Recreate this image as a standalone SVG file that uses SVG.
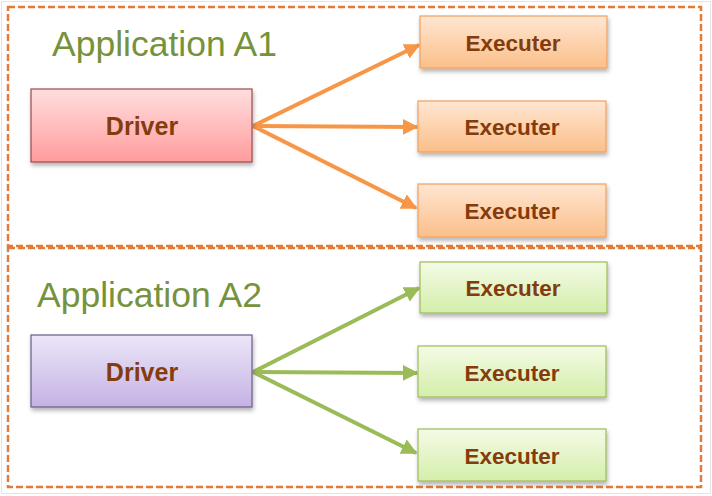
<svg xmlns="http://www.w3.org/2000/svg" width="712" height="496" viewBox="0 0 712 496">
<style>
.frame{fill:none;stroke:#e07b39;stroke-width:2.5;stroke-dasharray:7 3}
.title{font-family:"Liberation Sans",Arial,sans-serif;font-size:35.5px;fill:#76923c}
.lbl{font-family:"Liberation Sans",Arial,sans-serif;font-weight:bold;fill:#843c0c;text-anchor:middle}
.drv{font-size:25px}
.exe{font-size:22.5px}
.ca{stroke:#f79646;stroke-width:4;fill:none}
.cg{stroke:#9bbb59;stroke-width:4;fill:none}
</style>
<defs>
<linearGradient id="gRed" x1="0" y1="0" x2="0" y2="1"><stop offset="0" stop-color="#ffdede"/><stop offset="1" stop-color="#ff9c9c"/></linearGradient>
<linearGradient id="gPur" x1="0" y1="0" x2="0" y2="1"><stop offset="0" stop-color="#ece6f8"/><stop offset="1" stop-color="#c4b2e4"/></linearGradient>
<linearGradient id="gOr" x1="0" y1="0" x2="0" y2="1"><stop offset="0" stop-color="#ffe6d2"/><stop offset="1" stop-color="#fbbf8a"/></linearGradient>
<linearGradient id="gGr" x1="0" y1="0" x2="0" y2="1"><stop offset="0" stop-color="#f4fbe6"/><stop offset="1" stop-color="#d4eeaa"/></linearGradient>
<filter id="sh" x="-10%" y="-20%" width="120%" height="150%"><feDropShadow dx="1" dy="3" stdDeviation="2" flood-color="#000" flood-opacity="0.3"/></filter>
<marker id="ao" viewBox="0 0 10 10" refX="9" refY="5" markerWidth="4" markerHeight="4" markerUnits="strokeWidth" orient="auto"><path d="M0,0 L10,5 L0,10 z" fill="#f79646"/></marker>
<marker id="ag" viewBox="0 0 10 10" refX="9" refY="5" markerWidth="4" markerHeight="4" markerUnits="strokeWidth" orient="auto"><path d="M0,0 L10,5 L0,10 z" fill="#9bbb59"/></marker>
</defs>
<rect x="0" y="0" width="712" height="496" fill="#ffffff"/>
<rect x="1.5" y="1.5" width="709" height="492" fill="none" stroke="#e4e4e4" stroke-width="1"/>
<g id="appA1">
<rect class="frame" x="8" y="7" width="693" height="239"/>
<text class="title" x="52" y="56">Application A1</text>
</g>
<g id="appA2">
<rect class="frame" x="8" y="248" width="693" height="239"/>
<text class="title" x="37" y="307">Application A2</text>
</g>
<g id="connectors">
<path class="ca" d="M253,126 L419,45" marker-end="url(#ao)"/>
<path class="ca" d="M253,126 L417,127" marker-end="url(#ao)"/>
<path class="ca" d="M253,126 L416,208" marker-end="url(#ao)"/>
<path class="cg" d="M253,372 L419,288" marker-end="url(#ag)"/>
<path class="cg" d="M253,372 L417,373" marker-end="url(#ag)"/>
<path class="cg" d="M253,372 L416,453" marker-end="url(#ag)"/>
</g>
<g id="driverA1">
<rect x="31" y="89" width="221" height="73" fill="url(#gRed)" stroke="#9e4a4a" stroke-width="1.2" filter="url(#sh)"/>
<text class="lbl drv" x="142" y="135">Driver</text>
</g>
<g id="execA1a">
<rect x="420" y="16" width="187" height="52" fill="url(#gOr)" stroke="#f0a060" stroke-width="1.2" filter="url(#sh)"/>
<text class="lbl exe" x="513" y="51">Executer</text>
</g>
<g id="execA1b">
<rect x="418" y="101" width="188" height="51" fill="url(#gOr)" stroke="#f0a060" stroke-width="1.2" filter="url(#sh)"/>
<text class="lbl exe" x="512" y="135">Executer</text>
</g>
<g id="execA1c">
<rect x="418" y="184" width="188" height="53" fill="url(#gOr)" stroke="#f0a060" stroke-width="1.2" filter="url(#sh)"/>
<text class="lbl exe" x="512" y="219">Executer</text>
</g>
<g id="driverA2">
<rect x="31" y="335" width="221" height="72" fill="url(#gPur)" stroke="#6a5a8a" stroke-width="1.2" filter="url(#sh)"/>
<text class="lbl drv" x="142" y="381">Driver</text>
</g>
<g id="execA2a">
<rect x="420" y="262" width="187" height="51" fill="url(#gGr)" stroke="#9bbb59" stroke-width="1.2" filter="url(#sh)"/>
<text class="lbl exe" x="513" y="296">Executer</text>
</g>
<g id="execA2b">
<rect x="418" y="346" width="188" height="51" fill="url(#gGr)" stroke="#9bbb59" stroke-width="1.2" filter="url(#sh)"/>
<text class="lbl exe" x="512" y="381">Executer</text>
</g>
<g id="execA2c">
<rect x="418" y="429" width="188" height="52" fill="url(#gGr)" stroke="#9bbb59" stroke-width="1.2" filter="url(#sh)"/>
<text class="lbl exe" x="512" y="464">Executer</text>
</g>
</svg>
